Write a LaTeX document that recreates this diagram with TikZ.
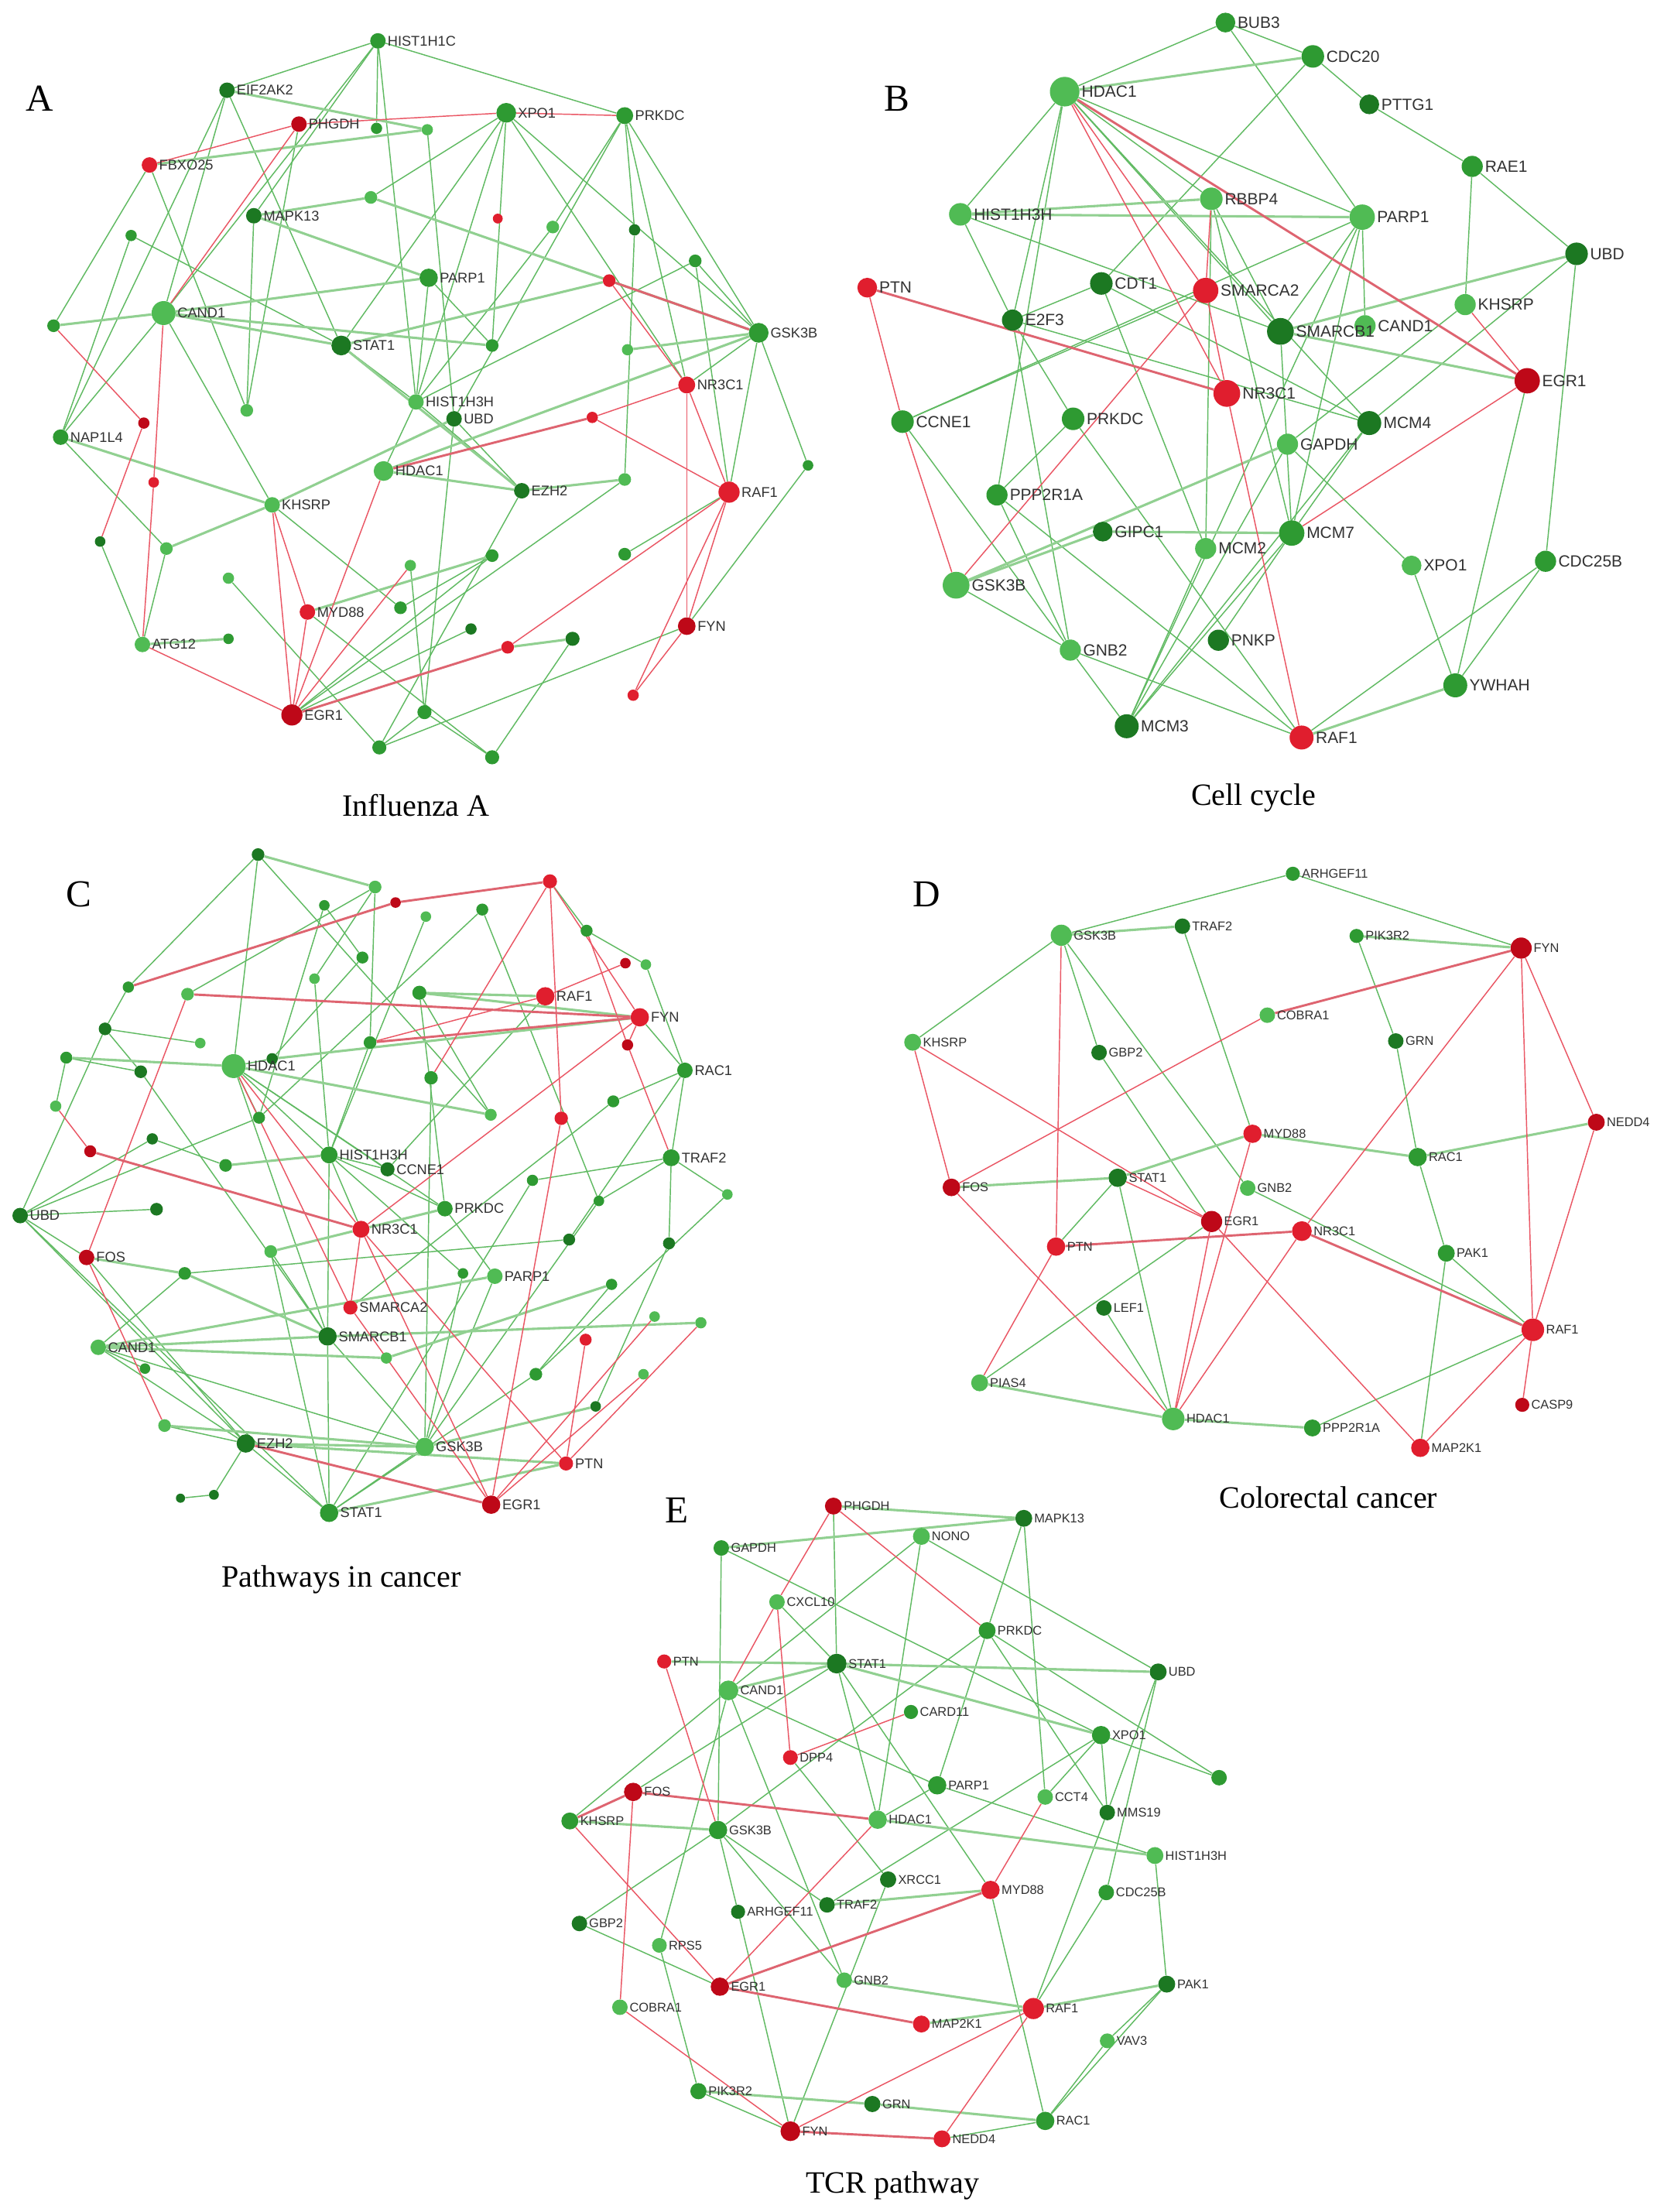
\documentclass[tikz,border=0pt]{standalone}
\usepackage{fontspec}
\setmainfont{Liberation Serif}
\setsansfont{Liberation Sans}
\usetikzlibrary{backgrounds}
\definecolor{cDG}{RGB}{28,120,34}
\definecolor{cMG}{RGB}{46,154,50}
\definecolor{cLG}{RGB}{80,187,84}
\definecolor{cRD}{RGB}{224,30,46}
\definecolor{cDR}{RGB}{190,8,24}
\definecolor{cEg}{RGB}{96,186,98}
\definecolor{cEgt}{RGB}{145,208,145}
\definecolor{cEr}{RGB}{234,86,100}
\definecolor{cErt}{RGB}{222,100,112}
\definecolor{labc}{RGB}{50,50,50}
\tikzset{
  x=1pt, y=-1pt,
  nd/.style={circle,inner sep=0pt,minimum size=#1pt},
  dg/.style={nd=#1,fill=cDG}, mg/.style={nd=#1,fill=cMG}, lg/.style={nd=#1,fill=cLG},
  rd/.style={nd=#1,fill=cRD}, dr/.style={nd=#1,fill=cDR},
  eG/.style={draw=cEg,line width=0.8pt}, eGt/.style={draw=cEgt,line width=1.7pt},
  eR/.style={draw=cEr,line width=0.8pt}, eRt/.style={draw=cErt,line width=1.6pt},
  lA/.style={font=\sffamily\fontsize{10}{12}\selectfont,text=labc,inner sep=1pt},
  lB/.style={font=\sffamily\fontsize{11.5}{13}\selectfont,text=labc,inner sep=1.2pt},
  lC/.style={font=\sffamily\fontsize{10}{12}\selectfont,text=labc,inner sep=1pt},
  lD/.style={font=\sffamily\fontsize{9}{11}\selectfont,text=labc,inner sep=1pt},
  lE/.style={font=\sffamily\fontsize{9}{11}\selectfont,text=labc,inner sep=1pt},
  ttl/.style={font=\fontsize{22}{24}\selectfont,inner sep=0pt},
  pl/.style={font=\fontsize{27}{29}\selectfont,inner sep=0pt},
}
\begin{document}
\begin{tikzpicture}
\path[use as bounding box] (0,0) rectangle (1180,1568.6);
% ================= PANEL A =================
\node[pl] (lettA) at (28,70) {A};
\node[ttl] (tA) at (295,571) {Influenza A};
\node[mg=11,label={[lA]east:HIST1H1C}] (AHIST1H1C) at (268,29) {};
\node[dg=11,label={[lA]east:EIF2AK2}] (AEIF2AK2) at (161,64) {};
\node[dr=11,label={[lA]east:PHGDH}] (APHGDH) at (212,88) {};
\node[mg=14,label={[lA]east:XPO1}] (AXPO1) at (359,80) {};
\node[mg=12,label={[lA]east:PRKDC}] (APRKDC) at (443,82) {};
\node[rd=11,label={[lA]east:FBXO25}] (AFBXO25) at (106,117) {};
\node[mg=8] (Aa1) at (267,91) {};
\node[lg=8] (Aa2) at (303,92) {};
\node[dg=11,label={[lA]east:MAPK13}] (AMAPK13) at (180,153) {};
\node[lg=9] (Aa3) at (263,140) {};
\node[rd=7] (Aa4) at (353,155) {};
\node[lg=9] (Aa5) at (392,161) {};
\node[dg=8] (Aa6) at (450,163) {};
\node[mg=8] (Aa7) at (93,167) {};
\node[mg=9] (Aa8) at (493,185) {};
\node[mg=13,label={[lA]east:PARP1}] (APARP1) at (304,197) {};
\node[rd=9] (Aa9) at (432,199) {};
\node[lg=17,label={[lA]east:CAND1}] (ACAND1) at (116,222) {};
\node[mg=9] (Aa10) at (38,231) {};
\node[mg=14,label={[lA]east:GSK3B}] (AGSK3B) at (538,236) {};
\node[dg=14,label={[lA]east:STAT1}] (ASTAT1) at (242,245) {};
\node[mg=9] (Aa11) at (349,245) {};
\node[lg=8] (Aa12) at (445,248) {};
\node[rd=12,label={[lA]east:NR3C1}] (ANR3C1) at (487,273) {};
\node[dg=11,label={[lA]east:UBD}] (AUBD) at (322,297) {};
\node[lg=11,label={[lA]east:HIST1H3H}] (AHIST1H3H) at (295,285) {};
\node[lg=9] (Aa13) at (175,291) {};
\node[mg=11,label={[lA]east:NAP1L4}] (ANAP1L4) at (43,310) {};
\node[dr=8] (Aa14) at (102,300) {};
\node[rd=8] (Aa15) at (420,296) {};
\node[rd=7.5] (Aa16) at (109,342) {};
\node[lg=14,label={[lA]east:HDAC1}] (AHDAC1) at (272,334) {};
\node[dg=11,label={[lA]east:EZH2}] (AEZH2) at (370,348) {};
\node[lg=9] (Aa17) at (443,340) {};
\node[rd=15,label={[lA]east:RAF1}] (ARAF1) at (517,349) {};
\node[mg=7.5] (Aa18) at (573,330) {};
\node[lg=11,label={[lA]east:KHSRP}] (AKHSRP) at (193,358) {};
\node[dg=7.5] (Aa19) at (71,384) {};
\node[lg=9] (Aa20) at (118,389) {};
\node[mg=9] (Aa21) at (443,393) {};
\node[mg=9] (Aa22) at (349,394) {};
\node[lg=8] (Aa23) at (291,401) {};
\node[lg=8] (Aa24) at (162,410) {};
\node[rd=11,label={[lA]east:MYD88}] (AMYD88) at (218,434) {};
\node[mg=9] (Aa25) at (284,431) {};
\node[dg=8] (Aa26) at (334,446) {};
\node[lg=11,label={[lA]east:ATG12}] (AATG12) at (101,457) {};
\node[mg=7.5] (Aa27) at (162,453) {};
\node[rd=9] (Aa28) at (360,459) {};
\node[dg=10] (Aa29) at (406,453) {};
\node[dr=12.5,label={[lA]east:FYN}] (AFYN) at (487,444) {};
\node[rd=8] (Aa30) at (449,493) {};
\node[dr=15,label={[lA]east:EGR1}] (AEGR1) at (207,507) {};
\node[mg=10] (Aa31) at (301,505) {};
\node[mg=10] (Aa32) at (269,530) {};
\node[mg=10] (Aa33) at (349,537) {};
% ================= PANEL B =================
\node[pl] (lettB) at (636,70) {B};
\node[ttl] (tB) at (889,566) {Cell cycle};
\node[mg=14,label={[lB]east:BUB3}] (BBUB3) at (869,16) {};
\node[mg=16,label={[lB]east:CDC20}] (BCDC20) at (931,40) {};
\node[lg=21,label={[lB]east:HDAC1}] (BHDAC1) at (755,65) {};
\node[dg=14,label={[lB]east:PTTG1}] (BPTTG1) at (971,74) {};
\node[mg=15,label={[lB]east:RAE1}] (BRAE1) at (1044,118) {};
\node[lg=16,label={[lB]east:RBBP4}] (BRBBP4) at (859,141) {};
\node[lg=16,label={[lB]east:HIST1H3H}] (BHIST1H3H) at (681,152) {};
\node[lg=18,label={[lB]east:PARP1}] (BPARP1) at (966,154) {};
\node[dg=16,label={[lB]east:UBD}] (BUBD) at (1118,180) {};
\node[rd=14,label={[lB]east:PTN}] (BPTN) at (615,204) {};
\node[dg=16,label={[lB]east:CDT1}] (BCDT1) at (781,201) {};
\node[rd=18,label={[lB]east:SMARCA2}] (BSMARCA2) at (855,206) {};
\node[lg=15,label={[lB]east:KHSRP}] (BKHSRP) at (1039,216) {};
\node[dg=15,label={[lB]east:E2F3}] (BE2F3) at (718,227) {};
\node[lg=15,label={[lB]east:CAND1}] (BCAND1) at (968,231) {};
\node[dg=19,label={[lB]east:SMARCB1}] (BSMARCB1) at (908,235) {};
\node[dr=18,label={[lB]east:EGR1}] (BEGR1) at (1083,270) {};
\node[rd=19,label={[lB]east:NR3C1}] (BNR3C1) at (870,279) {};
\node[mg=16,label={[lB]east:CCNE1}] (BCCNE1) at (640,299) {};
\node[mg=16,label={[lB]east:PRKDC}] (BPRKDC) at (761,297) {};
\node[dg=17,label={[lB]east:MCM4}] (BMCM4) at (971,300) {};
\node[lg=15,label={[lB]east:GAPDH}] (BGAPDH) at (913,315) {};
\node[mg=15,label={[lB]east:PPP2R1A}] (BPPP2R1A) at (707,351) {};
\node[dg=14,label={[lB]east:GIPC1}] (BGIPC1) at (782,377) {};
\node[mg=18,label={[lB]east:MCM7}] (BMCM7) at (916,378) {};
\node[lg=15,label={[lB]east:MCM2}] (BMCM2) at (855,389) {};
\node[lg=14,label={[lB]east:XPO1}] (BXPO1) at (1001,401) {};
\node[mg=15,label={[lB]east:CDC25B}] (BCDC25B) at (1096,398) {};
\node[lg=19,label={[lB]east:GSK3B}] (BGSK3B) at (678,415) {};
\node[dg=15,label={[lB]east:PNKP}] (BPNKP) at (864,454) {};
\node[lg=15,label={[lB]east:GNB2}] (BGNB2) at (759,461) {};
\node[mg=17,label={[lB]east:YWHAH}] (BYWHAH) at (1032,486) {};
\node[dg=17,label={[lB]east:MCM3}] (BMCM3) at (799,515) {};
\node[rd=17,label={[lB]east:RAF1}] (BRAF1) at (923,523) {};
% ================= PANEL C =================
\node[pl] (lettC) at (56,634) {C};
\node[ttl] (tC) at (242,1120) {Pathways in cancer};
\node[dg=9] (Ctop) at (183,606) {};
\node[lg=9] (Cc1) at (266,629) {};
\node[rd=10] (CrA) at (390,625) {};
\node[dr=7.5] (CdrA) at (280.5,640) {};
\node[mg=7.5] (Cc2) at (230,642) {};
\node[mg=8.5] (Cc3) at (342,645) {};
\node[lg=7.5] (Cc4) at (302,650) {};
\node[mg=8.5] (Cc5) at (416,660) {};
\node[mg=8.5] (Cc6) at (257,679) {};
\node[dr=7.5] (CdrB) at (443.5,683) {};
\node[lg=7.5] (Cc7) at (458,684) {};
\node[lg=7.5] (Cc8) at (223,694) {};
\node[mg=8] (Cc9) at (91,700) {};
\node[lg=9] (Cc10) at (133,705) {};
\node[mg=10] (Cc11) at (297.4,704) {};
\node[rd=13,label={[lC]east:RAF1}] (CRAF1) at (386.7,706.5) {};
\node[rd=13,label={[lC]east:FYN}] (CFYN) at (453.7,721.4) {};
\node[dg=9] (Cc12) at (74.5,729.6) {};
\node[lg=7.5] (Cc13) at (142,739.7) {};
\node[mg=9] (Cc14) at (262.4,739.3) {};
\node[dr=8] (CdrC) at (445,741) {};
\node[mg=8.5] (Cc15) at (47,750) {};
\node[dg=8] (Cc16) at (193,750.8) {};
\node[lg=17,label={[lC]east:HDAC1}] (CHDAC1) at (165.7,756) {};
\node[mg=11,label={[lC]east:RAC1}] (CRAC1) at (485.7,759) {};
\node[dg=9] (Cc17) at (99.8,760) {};
\node[mg=9.5] (Cc18) at (305.7,764.3) {};
\node[mg=8.5] (Cc19) at (434.9,781) {};
\node[lg=8] (Cc20) at (39.5,784.4) {};
\node[rd=9.5] (CrB) at (398,793) {};
\node[lg=8.5] (Cc21) at (348,790.5) {};
\node[mg=8.5] (Cc22) at (183.7,792.6) {};
\node[dg=8] (Cc23) at (108,807.6) {};
\node[dr=8.5] (CdrD) at (64,816.4) {};
\node[mg=12,label={[lC]east:HIST1H3H}] (CHIST1H3H) at (233.4,819) {};
\node[mg=12,label={[lC]east:TRAF2}] (CTRAF2) at (476,821) {};
\node[dg=10,label={[lC]east:CCNE1}] (CCCNE1) at (274.8,829.2) {};
\node[mg=9] (Cc24) at (160,826.4) {};
\node[mg=8] (Cc25) at (377.6,837) {};
\node[lg=7.5] (Cc26) at (515.8,847) {};
\node[mg=7.5] (Cc27) at (424.7,851.6) {};
\node[dg=9] (Cc28) at (111,857.5) {};
\node[mg=11,label={[lC]east:PRKDC}] (CPRKDC) at (315.5,857.1) {};
\node[dg=11,label={[lC]east:UBD}] (CUBD) at (14.3,862) {};
\node[rd=12,label={[lC]east:NR3C1}] (CNR3C1) at (256,871.7) {};
\node[dg=8.5] (Cc29) at (403.6,879) {};
\node[dg=8.5] (Cc30) at (474.4,881.7) {};
\node[dr=11,label={[lC]east:FOS}] (CFOS) at (61.4,891.7) {};
\node[lg=9] (Cc31) at (192,887.5) {};
\node[mg=9] (Cc32) at (131,903) {};
\node[mg=7.5] (Cc33) at (328.3,903) {};
\node[lg=11,label={[lC]east:PARP1}] (CPARP1) at (350.9,905) {};
\node[mg=8] (Cc34) at (433.7,910.8) {};
\node[rd=10,label={[lC]east:SMARCA2}] (CSMARCA2) at (248.5,927.2) {};
\node[lg=7.5] (Cc35) at (464.2,933.6) {};
\node[lg=8] (Cc36) at (497,938) {};
\node[dg=13,label={[lC]east:SMARCB1}] (CSMARCB1) at (232.3,947.7) {};
\node[rd=8.5] (CrC) at (415.3,950) {};
\node[lg=11,label={[lC]east:CAND1}] (CCAND1) at (69.7,955.4) {};
\node[lg=8] (Cc37) at (274,963) {};
\node[mg=7.5] (Cc38) at (102.8,970.5) {};
\node[mg=9] (Cc39) at (380,974.5) {};
\node[lg=7.5] (Cc40) at (456.3,974.5) {};
\node[dg=7.5] (Cc41) at (422.4,997.3) {};
\node[lg=9] (Cc42) at (116.7,1010.9) {};
\node[dg=13,label={[lC]east:EZH2}] (CEZH2) at (174.3,1023.6) {};
\node[lg=13,label={[lC]east:GSK3B}] (CGSK3B) at (301.2,1026) {};
\node[rd=10,label={[lC]east:PTN}] (CPTN) at (401.4,1037.8) {};
\node[dg=7] (Cc43) at (151.7,1060) {};
\node[dg=6.5] (Cc44) at (128,1062.4) {};
\node[mg=13,label={[lC]east:STAT1}] (CSTAT1) at (233.4,1072.8) {};
\node[dr=13,label={[lC]east:EGR1}] (CEGR1) at (348.3,1067) {};
% ================= PANEL D =================
\node[pl] (lettD) at (657,634) {D};
\node[ttl] (tD) at (942,1062) {Colorectal cancer};
\node[mg=10,label={[lD]east:ARHGEF11}] (DARHGEF11) at (916.8,619.6) {};
\node[lg=15,label={[lD]east:GSK3B}] (DGSK3B) at (752.6,663.2) {};
\node[dg=11,label={[lD]east:TRAF2}] (DTRAF2) at (838.5,656.8) {};
\node[mg=10,label={[lD]east:PIK3R2}] (DPIK3R2) at (962,663.7) {};
\node[dr=15,label={[lD]east:FYN}] (DFYN) at (1078.7,672.3) {};
\node[lg=11,label={[lD]east:COBRA1}] (DCOBRA1) at (898.7,719.9) {};
\node[lg=12,label={[lD]east:KHSRP}] (DKHSRP) at (647.2,739.1) {};
\node[dg=11,label={[lD]east:GRN}] (DGRN) at (989.8,738.2) {};
\node[dg=11,label={[lD]east:GBP2}] (DGBP2) at (779.4,746.4) {};
\node[dr=12,label={[lD]east:NEDD4}] (DNEDD4) at (1132,795.8) {};
\node[rd=13,label={[lD]east:MYD88}] (DMYD88) at (888.2,804) {};
\node[mg=13,label={[lD]east:RAC1}] (DRAC1) at (1005.3,820.5) {};
\node[dg=13,label={[lD]east:STAT1}] (DSTAT1) at (792.6,835.2) {};
\node[dr=12.5,label={[lD]east:FOS}] (DFOS) at (674.7,842) {};
\node[lg=11,label={[lD]east:GNB2}] (DGNB2) at (884.8,842.5) {};
\node[dr=15,label={[lD]east:EGR1}] (DEGR1) at (859.2,866.2) {};
\node[rd=14,label={[lD]east:NR3C1}] (DNR3C1) at (923.2,873) {};
\node[rd=13,label={[lD]east:PTN}] (DPTN) at (748.9,884) {};
\node[mg=12,label={[lD]east:PAK1}] (DPAK1) at (1025.6,888.7) {};
\node[dg=11,label={[lD]east:LEF1}] (DLEF1) at (782.8,927.5) {};
\node[rd=16,label={[lD]east:RAF1}] (DRAF1) at (1087,943) {};
\node[lg=12,label={[lD]east:PIAS4}] (DPIAS4) at (694.7,980.6) {};
\node[dr=10,label={[lD]east:CASP9}] (DCASP9) at (1079.5,996.2) {};
\node[lg=16,label={[lD]east:HDAC1}] (DHDAC1) at (832,1006.2) {};
\node[mg=12,label={[lD]east:PPP2R1A}] (DPPP2R1A) at (930.7,1012.6) {};
\node[rd=13,label={[lD]east:MAP2K1}] (DMAP2K1) at (1007.2,1026.7) {};
% ================= PANEL E =================
\node[pl] (lettE) at (480,1071) {E};
\node[ttl] (tE) at (633,1550) {TCR pathway};
\node[dr=12,label={[lE]east:PHGDH}] (EPHGDH) at (591,1068) {};
\node[dg=12,label={[lE]east:MAPK13}] (EMAPK13) at (726,1076.7) {};
\node[lg=12,label={[lE]east:NONO}] (ENONO) at (653.4,1089.5) {};
\node[mg=11,label={[lE]east:GAPDH}] (EGAPDH) at (511.5,1097.7) {};
\node[lg=11,label={[lE]east:CXCL10}] (ECXCL10) at (551,1136) {};
\node[mg=12,label={[lE]east:PRKDC}] (EPRKDC) at (700,1156.3) {};
\node[rd=10,label={[lE]east:PTN}] (EPTN) at (471,1178.2) {};
\node[dg=14,label={[lE]east:STAT1}] (ESTAT1) at (593.3,1179.7) {};
\node[dg=12,label={[lE]east:UBD}] (EUBD) at (821.3,1185.6) {};
\node[lg=14,label={[lE]east:CAND1}] (ECAND1) at (516.6,1198.7) {};
\node[mg=10,label={[lE]east:CARD11}] (ECARD11) at (646,1214) {};
\node[mg=13,label={[lE]east:XPO1}] (EXPO1) at (780.8,1230.4) {};
\node[rd=10.5,label={[lE]east:DPP4}] (EDPP4) at (560.5,1246.3) {};
\node[mg=11] (Ee1) at (864.5,1260.6) {};
\node[mg=13,label={[lE]east:PARP1}] (EPARP1) at (664.6,1266) {};
\node[lg=11,label={[lE]east:CCT4}] (ECCT4) at (741.2,1274.3) {};
\node[dr=13,label={[lE]east:FOS}] (EFOS) at (449,1270.7) {};
\node[dg=11,label={[lE]east:MMS19}] (EMMS19) at (785.2,1285.3) {};
\node[mg=12,label={[lE]east:KHSRP}] (EKHSRP) at (404.1,1291.3) {};
\node[lg=13,label={[lE]east:HDAC1}] (EHDAC1) at (622.4,1290.4) {};
\node[mg=13,label={[lE]east:GSK3B}] (EGSK3B) at (509.2,1297.7) {};
\node[lg=12,label={[lE]east:HIST1H3H}] (EHIST1H3H) at (819,1315.8) {};
\node[dg=11.5,label={[lE]east:XRCC1}] (EXRCC1) at (629.8,1332.8) {};
\node[rd=13,label={[lE]east:MYD88}] (EMYD88) at (702.4,1340.2) {};
\node[mg=11,label={[lE]east:CDC25B}] (ECDC25B) at (784.5,1342) {};
\node[dg=11,label={[lE]east:TRAF2}] (ETRAF2) at (586.5,1350.8) {};
\node[dg=10,label={[lE]east:ARHGEF11}] (EARHGEF11) at (523.4,1355.7) {};
\node[dg=11,label={[lE]east:GBP2}] (EGBP2) at (410.9,1364) {};
\node[lg=10.5,label={[lE]east:RPS5}] (ERPS5) at (467.6,1379.5) {};
\node[dr=13,label={[lE]east:EGR1}] (EEGR1) at (510.5,1408.8) {};
\node[lg=11,label={[lE]east:GNB2}] (EGNB2) at (598.7,1404.2) {};
\node[dg=12,label={[lE]east:PAK1}] (EPAK1) at (827.4,1407) {};
\node[lg=11,label={[lE]east:COBRA1}] (ECOBRA1) at (439.6,1423.4) {};
\node[rd=15,label={[lE]east:RAF1}] (ERAF1) at (732.8,1424.3) {};
\node[rd=12,label={[lE]east:MAP2K1}] (EMAP2K1) at (653.4,1435.3) {};
\node[lg=10.5,label={[lE]east:VAV3}] (EVAV3) at (785.2,1447.2) {};
\node[mg=11.5,label={[lE]east:PIK3R2}] (EPIK3R2) at (495.3,1482.9) {};
\node[dg=11.5,label={[lE]east:GRN}] (EGRN) at (618.6,1492) {};
\node[mg=13,label={[lE]east:RAC1}] (ERAC1) at (741.2,1504) {};
\node[dr=14,label={[lE]east:FYN}] (EFYN) at (560.5,1511.3) {};
\node[rd=12,label={[lE]east:NEDD4}] (ENEDD4) at (668,1516.7) {};
% ================= EDGES =================
\begin{pgfonlayer}{background}
\fill[white] (0,0) rectangle (1180,1568.6);
% --- A ---
\foreach \a/\b in {AHIST1H1C/AEIF2AK2, AHIST1H1C/APRKDC, AHIST1H1C/Aa1, AHIST1H1C/AMAPK13, AHIST1H1C/ACAND1, AHIST1H1C/AHIST1H3H, AEIF2AK2/ACAND1, AEIF2AK2/ASTAT1, AEIF2AK2/ANAP1L4, AFBXO25/Aa10, AFBXO25/Aa13, APHGDH/Aa13, AMAPK13/Aa13, Aa2/AUBD, AXPO1/Aa3, AXPO1/ASTAT1, AXPO1/AHIST1H3H, AXPO1/Aa11, AXPO1/AGSK3B, AXPO1/ANR3C1, APRKDC/Aa5, APRKDC/Aa6, APRKDC/AGSK3B, APRKDC/ANR3C1, APRKDC/AUBD, Aa5/AHIST1H3H, Aa6/Aa17, Aa7/ASTAT1, Aa7/ANAP1L4, Aa8/AHIST1H3H, Aa8/ARAF1, APARP1/AHIST1H3H, APARP1/Aa11, ACAND1/ANAP1L4, ACAND1/AKHSRP, AGSK3B/ANR3C1, AGSK3B/ARAF1, AGSK3B/Aa18, AHIST1H3H/AHDAC1, AHIST1H3H/AEZH2, AUBD/AEZH2, AUBD/Aa31, AEZH2/Aa32, AEGR1/Aa22, AEGR1/Aa26, ARAF1/Aa21, AFYN/Aa32, AFYN/Aa18, AKHSRP/Aa25, AMYD88/Aa33, Aa23/Aa31, Aa25/Aa22, Aa29/Aa33, Aa31/Aa32, Aa31/Aa33, Aa32/Aa24, Aa19/AATG12, Aa20/ANAP1L4, Aa20/AATG12, ASTAT1/AHIST1H3H, Aa8/AGSK3B, Aa17/AEGR1}
  \draw[eG] (\a) -- (\b);
\foreach \a/\b in {AEIF2AK2/Aa2, AFBXO25/Aa2, AMAPK13/Aa3, AMAPK13/APARP1, Aa3/AGSK3B, Aa9/ASTAT1, APARP1/ACAND1, ACAND1/Aa10, ACAND1/ASTAT1, ACAND1/Aa11, AGSK3B/Aa12, AGSK3B/AHDAC1, ASTAT1/AEZH2, AUBD/AKHSRP, AHDAC1/AEZH2, AEZH2/Aa17, AKHSRP/Aa20, AKHSRP/ANAP1L4, AMYD88/Aa22, Aa27/AATG12, Aa29/Aa28}
  \draw[eGt] (\a) -- (\b);
\foreach \a/\b in {APHGDH/AXPO1, AXPO1/APRKDC, APHGDH/AFBXO25, APHGDH/ACAND1, Aa9/ANR3C1, Aa10/Aa14, Aa14/Aa19, ACAND1/Aa16, Aa16/AATG12, ANR3C1/Aa15, ANR3C1/ARAF1, ANR3C1/AFYN, Aa15/ARAF1, AHDAC1/AEGR1, AEGR1/Aa23, AEGR1/AKHSRP, AEGR1/AMYD88, AEGR1/AATG12, AKHSRP/AMYD88, ARAF1/AFYN, ARAF1/Aa30, AFYN/Aa30, ARAF1/Aa28}
  \draw[eR] (\a) -- (\b);
\foreach \a/\b in {Aa9/AGSK3B, Aa15/AHDAC1, AEGR1/Aa28}
  \draw[eRt] (\a) -- (\b);
% --- B ---
\foreach \a/\b in {BBUB3/BHDAC1, BBUB3/BCDC20, BBUB3/BPARP1, BCDC20/BPTTG1, BCDC20/BCDT1, BPTTG1/BRAE1, BRAE1/BKHSRP, BRAE1/BUBD, BHDAC1/BHIST1H3H, BHDAC1/BE2F3, BHDAC1/BPPP2R1A, BHDAC1/BRBBP4, BHDAC1/BPARP1, BHDAC1/BSMARCB1, BHDAC1/BMCM4, BHIST1H3H/BE2F3, BHIST1H3H/BSMARCB1, BRBBP4/BSMARCB1, BRBBP4/BMCM2, BRBBP4/BMCM7, BPARP1/BSMARCB1, BPARP1/BCAND1, BPARP1/BMCM7, BPARP1/BCCNE1, BPARP1/BMCM3, BE2F3/BCDT1, BE2F3/BPRKDC, BE2F3/BMCM4, BE2F3/BGNB2, BCDT1/BMCM4, BCDT1/BMCM2, BSMARCA2/BCCNE1, BUBD/BCDC25B, BUBD/BMCM4, BKHSRP/BGAPDH, BSMARCB1/BMCM7, BEGR1/BYWHAH, BCCNE1/BGNB2, BPRKDC/BPPP2R1A, BPRKDC/BRAF1, BGAPDH/BMCM3, BGAPDH/BXPO1, BMCM4/BMCM7, BMCM4/BMCM3, BMCM7/BMCM3, BMCM2/BMCM3, BPPP2R1A/BGNB2, BPPP2R1A/BRAF1, BGSK3B/BGNB2, BGNB2/BMCM3, BGNB2/BRAF1, BPNKP/BMCM7, BXPO1/BYWHAH, BCDC25B/BRAF1, BCDC25B/BYWHAH}
  \draw[eG] (\a) -- (\b);
\foreach \a/\b in {BCDC20/BHDAC1, BHIST1H3H/BRBBP4, BHIST1H3H/BPARP1, BUBD/BSMARCB1, BSMARCB1/BEGR1, BGAPDH/BGSK3B, BGIPC1/BMCM7, BGIPC1/BGSK3B, BYWHAH/BRAF1}
  \draw[eGt] (\a) -- (\b);
\foreach \a/\b in {BHDAC1/BSMARCA2, BHDAC1/BNR3C1, BRBBP4/BSMARCA2, BPTN/BCCNE1, BSMARCA2/BNR3C1, BSMARCA2/BGSK3B, BKHSRP/BEGR1, BEGR1/BMCM7, BNR3C1/BRAF1, BCCNE1/BGSK3B}
  \draw[eR] (\a) -- (\b);
\foreach \a/\b in {BHDAC1/BEGR1, BPTN/BNR3C1}
  \draw[eRt] (\a) -- (\b);
% --- C ---
\foreach \a/\b in {Ctop/CHDAC1, Ctop/Cc9, Ctop/Cc21, Cc1/Cc10, Cc1/Cc8, Cc1/Cc14, Cc2/Cc6, Cc2/Cc22, Cc3/Cc22, Cc3/Cc27, Cc4/CHIST1H3H, Cc5/Cc7, CrA/Cc5, Cc7/CRAC1, CFYN/CRAC1, CRAF1/CCCNE1, Cc11/Cc21, Cc11/CPRKDC, Cc14/CHIST1H3H, Cc12/Cc9, Cc12/CUBD, Cc12/Cc17, Cc13/Cc12, Cc15/Cc17, Cc15/Cc20, Cc16/CHDAC1, CHDAC1/CHIST1H3H, CHDAC1/CCCNE1, CHDAC1/CPRKDC, CHDAC1/CSMARCB1, CHDAC1/Cc22, Cc17/CSMARCB1, CRAC1/Cc19, CRAC1/CTRAF2, Cc22/CUBD, Cc23/CUBD, Cc23/Cc24, CHIST1H3H/CCCNE1, CHIST1H3H/CPRKDC, CHIST1H3H/CNR3C1, CHIST1H3H/CSMARCB1, CHIST1H3H/Cc33, CTRAF2/Cc25, CTRAF2/Cc27, CTRAF2/Cc30, CTRAF2/Cc26, Cc28/CUBD, CPRKDC/CPARP1, CUBD/CFOS, CUBD/CEZH2, CUBD/CSTAT1, CFOS/CEZH2, Cc31/CSMARCB1, Cc31/CSTAT1, Cc32/CCAND1, Cc32/Cc29, CPARP1/CGSK3B, Cc34/Cc39, CSMARCB1/CSTAT1, CSMARCB1/CGSK3B, CCAND1/CEZH2, CCAND1/CGSK3B, Cc39/CSTAT1, Cc42/CEZH2, CEZH2/CSTAT1, CEZH2/Cc43, Cc43/Cc44, CGSK3B/CSTAT1, Cc30/Cc41, Cc18/CGSK3B, Cc29/CRAC1, Cc38/CCAND1, Cc33/CGSK3B, Cc6/Cc16, Cc8/CHIST1H3H, Cc19/CSMARCA2, Cc25/CSTAT1, Cc26/Cc39, Cc27/CGSK3B}
  \draw[eG] (\a) -- (\b);
\foreach \a/\b in {Ctop/Cc1, CFYN/Cc11, CFYN/Cc16, CRAF1/Cc11, Cc15/CHDAC1, CHDAC1/Cc21, CHIST1H3H/Cc24, CPRKDC/CNR3C1, CNR3C1/Cc31, CFOS/Cc32, Cc32/CSMARCB1, CPARP1/CCAND1, Cc34/Cc37, Cc36/CSMARCB1, CSMARCB1/CCAND1, CCAND1/Cc37, Cc41/CGSK3B, Cc42/CGSK3B, CEZH2/CGSK3B, CEZH2/CPTN, CSTAT1/CPTN}
  \draw[eGt] (\a) -- (\b);
\foreach \a/\b in {CrA/CFYN, CrA/Cc18, CrA/CrB, Cc5/CdrC, CdrB/CRAF1, CFYN/CdrC, CFYN/CNR3C1, CdrC/CTRAF2, CRAF1/Cc14, Cc10/CFOS, CHDAC1/CNR3C1, CHDAC1/CSMARCA2, Cc20/CdrD, CrB/CEGR1, CNR3C1/CSMARCA2, CNR3C1/CPTN, CNR3C1/CEGR1, CFOS/Cc42, CSMARCA2/CEGR1, Cc35/CEGR1, Cc36/CPTN, CrC/CPTN, Cc40/CEGR1}
  \draw[eR] (\a) -- (\b);
\foreach \a/\b in {CrA/CdrA, CdrA/Cc9, CFYN/Cc10, CFYN/Cc14, CdrD/CNR3C1, CEZH2/CEGR1}
  \draw[eRt] (\a) -- (\b);
% --- D ---
\foreach \a/\b in {DARHGEF11/DGSK3B, DARHGEF11/DFYN, DGSK3B/DKHSRP, DGSK3B/DGBP2, DGSK3B/DGNB2, DTRAF2/DMYD88, DPIK3R2/DGRN, DGBP2/DEGR1, DGRN/DRAC1, DRAC1/DPAK1, DSTAT1/DHDAC1, DSTAT1/DPTN, DEGR1/DPIAS4, DLEF1/DHDAC1, DGNB2/DRAF1, DPAK1/DRAF1, DPAK1/DMAP2K1, DRAF1/DPPP2R1A}
  \draw[eG] (\a) -- (\b);
\foreach \a/\b in {DGSK3B/DTRAF2, DPIK3R2/DFYN, DMYD88/DSTAT1, DMYD88/DRAC1, DNEDD4/DRAC1, DSTAT1/DFOS, DHDAC1/DPIAS4, DHDAC1/DPPP2R1A}
  \draw[eGt] (\a) -- (\b);
\foreach \a/\b in {DGSK3B/DPTN, DCOBRA1/DFOS, DFYN/DNEDD4, DFYN/DRAF1, DFYN/DNR3C1, DKHSRP/DFOS, DKHSRP/DEGR1, DMYD88/DHDAC1, DNEDD4/DRAF1, DSTAT1/DEGR1, DPTN/DPIAS4, DFOS/DHDAC1, DEGR1/DHDAC1, DEGR1/DMAP2K1, DNR3C1/DHDAC1, DRAF1/DMAP2K1, DRAF1/DCASP9}
  \draw[eR] (\a) -- (\b);
\foreach \a/\b in {DFYN/DCOBRA1, DPTN/DNR3C1, DNR3C1/DRAF1}
  \draw[eRt] (\a) -- (\b);
% --- E ---
\foreach \a/\b in {EPHGDH/ESTAT1, EMAPK13/EPRKDC, EMAPK13/ECCT4, ENONO/EUBD, ENONO/ECAND1, ENONO/EHDAC1, EGAPDH/EGSK3B, EGAPDH/EXPO1, ECXCL10/ESTAT1, EPRKDC/EPARP1, EPRKDC/EMMS19, EPRKDC/Ee1, EPRKDC/EGSK3B, ESTAT1/EFOS, ESTAT1/EHDAC1, ESTAT1/EMYD88, EUBD/EMMS19, EUBD/ECDC25B, ECAND1/EKHSRP, ECAND1/EPARP1, ECAND1/EGNB2, EDPP4/EXRCC1, EXPO1/EMMS19, EXPO1/Ee1, EXPO1/ECCT4, EXPO1/ETRAF2, EPARP1/EHDAC1, EPARP1/EHIST1H3H, EGSK3B/EARHGEF11, EGSK3B/ETRAF2, EGSK3B/EGNB2, EGSK3B/EGBP2, EMMS19/ERAF1, EHIST1H3H/EPAK1, EXRCC1/EFYN, EARHGEF11/EFYN, EGBP2/EEGR1, ERPS5/EPIK3R2, ERPS5/ECAND1, ERAF1/ECDC25B, EMYD88/ERAC1, EPAK1/EVAV3, EVAV3/ERAC1, EPAK1/ERAC1, EPIK3R2/EFYN, ENEDD4/ERAC1}
  \draw[eG] (\a) -- (\b);
\foreach \a/\b in {EPHGDH/EMAPK13, EMAPK13/EGAPDH, EPTN/ESTAT1, ESTAT1/EUBD, ESTAT1/ECAND1, ESTAT1/EXPO1, EKHSRP/EGSK3B, EHDAC1/EHIST1H3H, ETRAF2/EMYD88, EGNB2/ERAF1, EMAP2K1/ERAF1, ERAF1/EPAK1, EPIK3R2/EGRN, EGRN/ERAC1}
  \draw[eGt] (\a) -- (\b);
\foreach \a/\b in {EPHGDH/ECXCL10, EPHGDH/EPRKDC, ECXCL10/ECAND1, ECXCL10/EDPP4, EPTN/EGSK3B, ECARD11/EDPP4, ECCT4/EMYD88, EFOS/ECOBRA1, EKHSRP/EEGR1, EHDAC1/EEGR1, ERAF1/EFYN, ERAF1/ENEDD4, ECOBRA1/EFYN}
  \draw[eR] (\a) -- (\b);
\foreach \a/\b in {EFOS/EKHSRP, EFOS/EHDAC1, EEGR1/EMYD88, EEGR1/EMAP2K1, EFYN/ENEDD4}
  \draw[eRt] (\a) -- (\b);
\end{pgfonlayer}
\end{tikzpicture}
\end{document}
